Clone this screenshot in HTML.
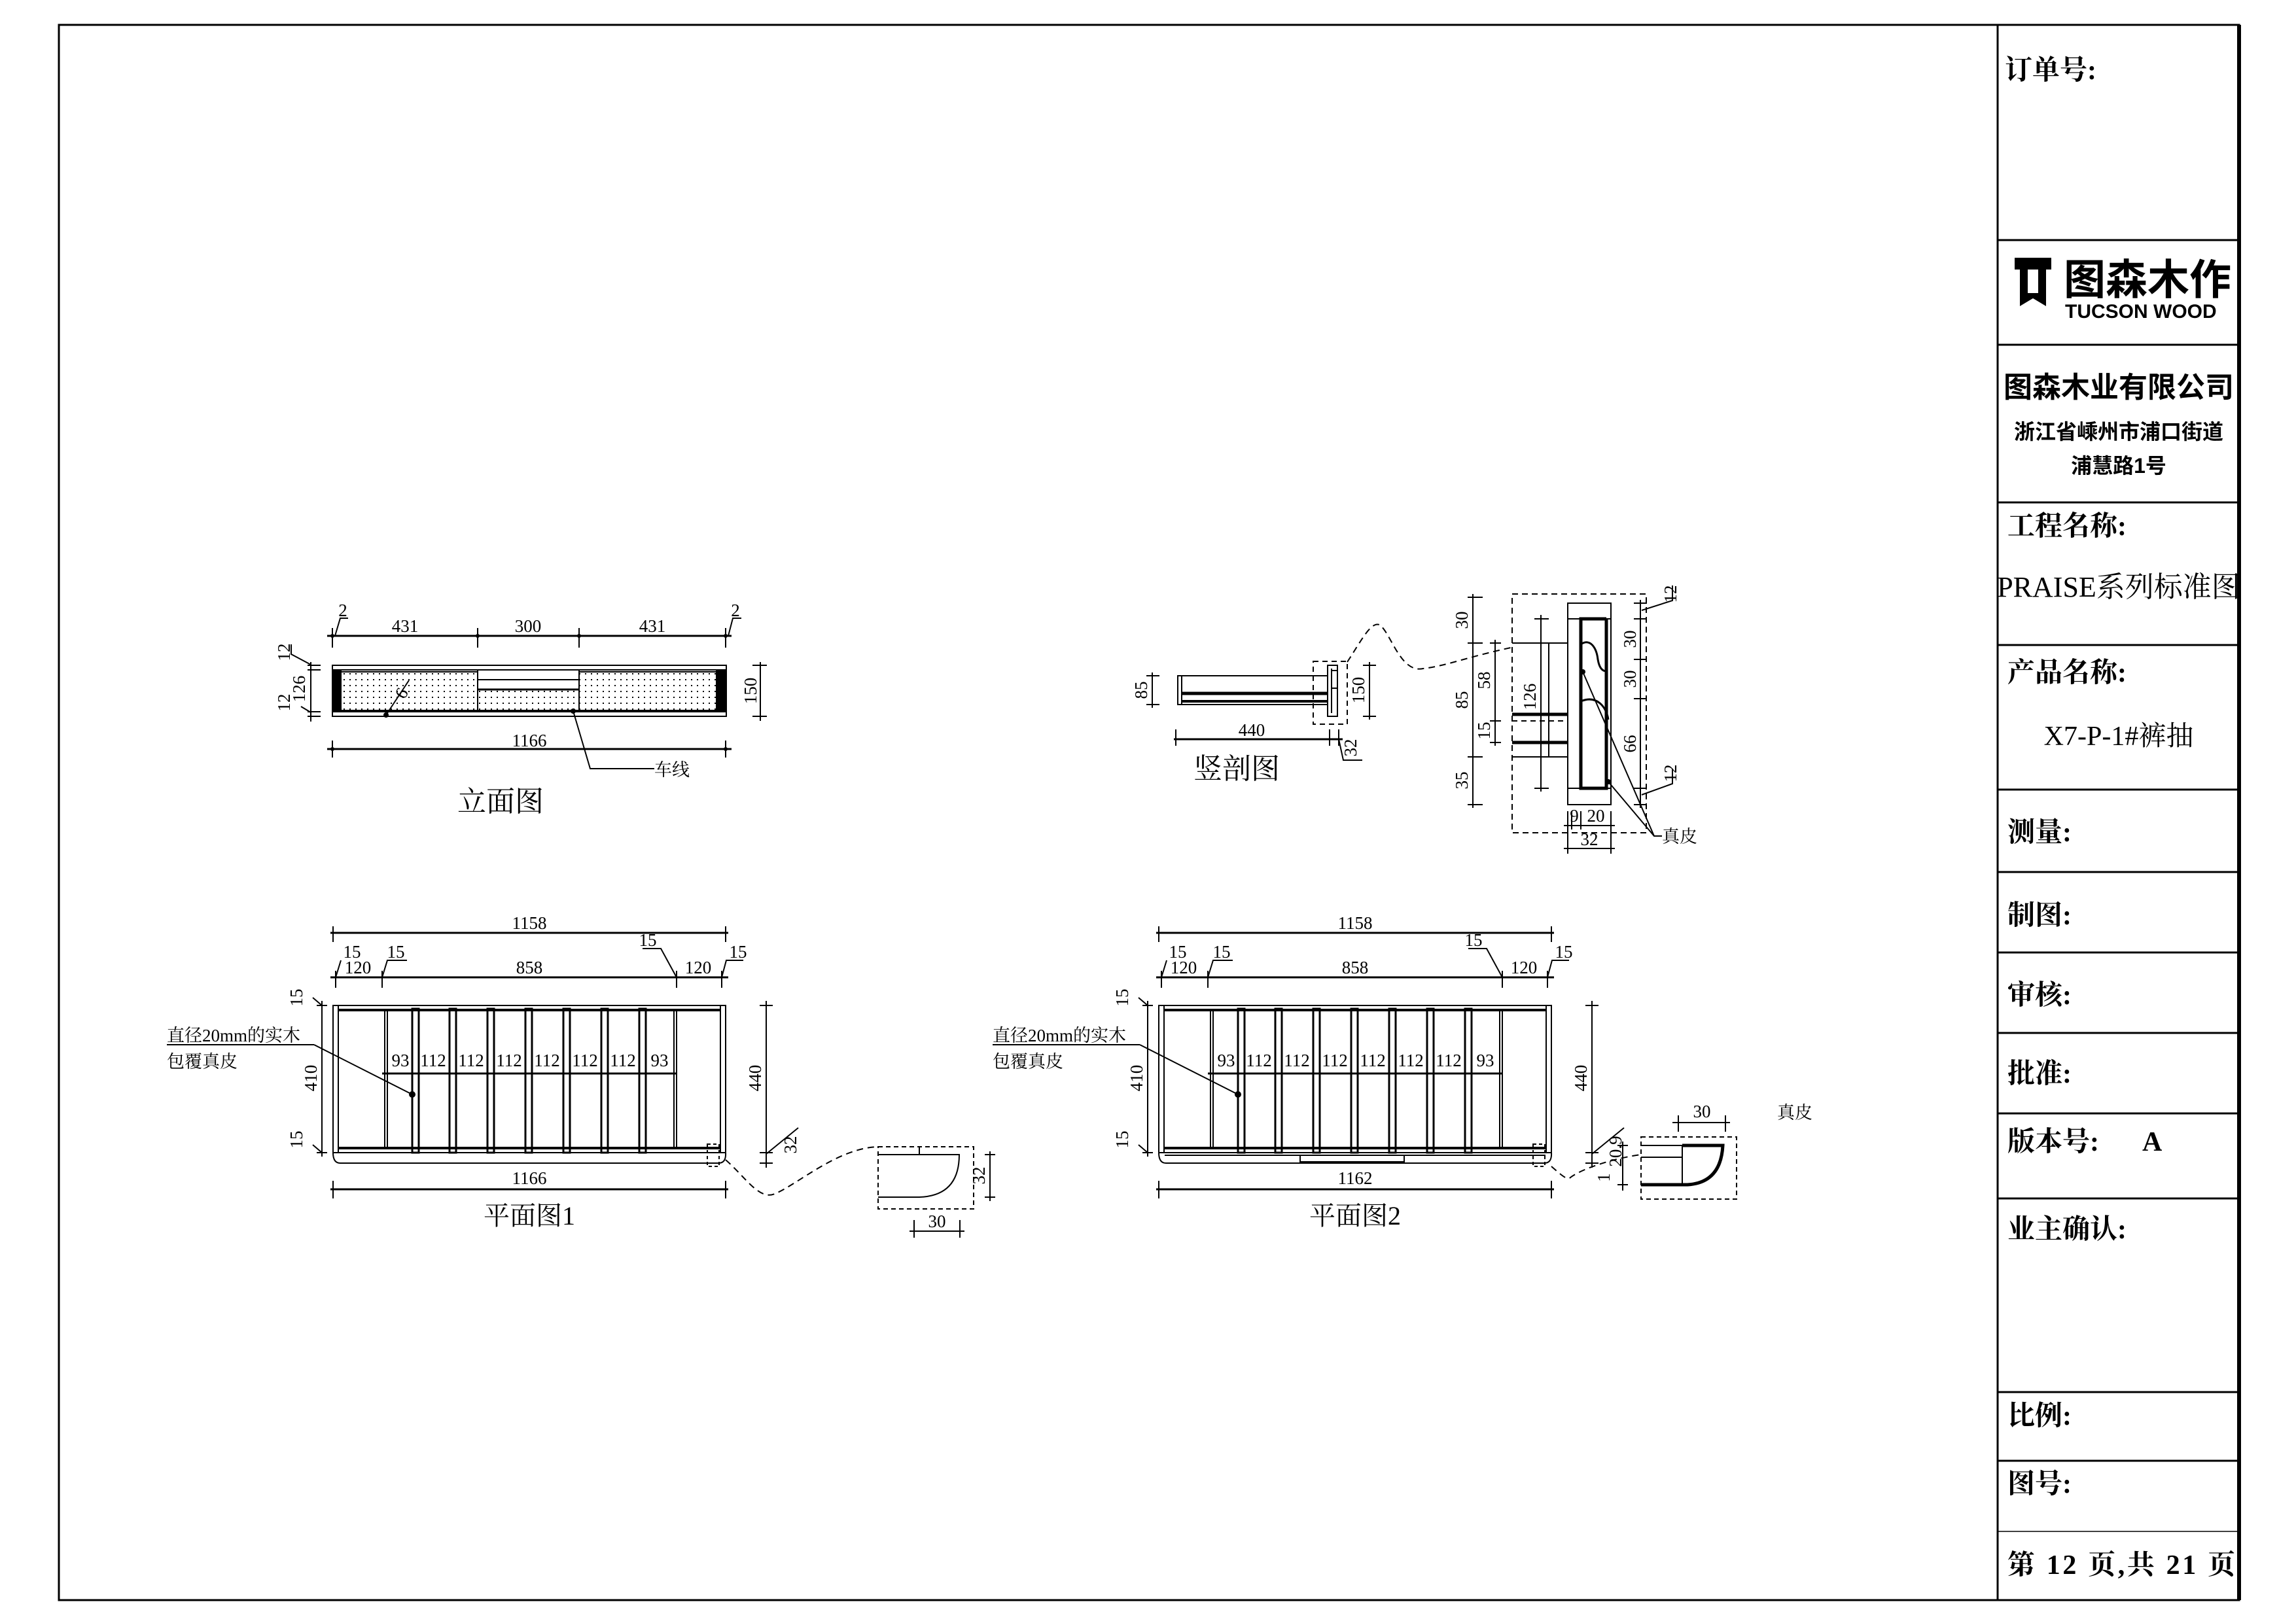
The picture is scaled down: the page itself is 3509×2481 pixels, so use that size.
<!DOCTYPE html>
<html><head><meta charset="utf-8"><style>
html,body{margin:0;padding:0;background:#fff}
svg{display:block}
.d{font-family:"Liberation Serif","Noto Serif CJK SC",serif;font-size:27px;fill:#000}
.c{font-family:"Liberation Serif","Noto Serif CJK SC",serif;fill:#000}
.t{font-family:"Liberation Serif","Noto Serif CJK SC",serif;font-weight:bold;font-size:42px;fill:#000}
.s{font-family:"Liberation Sans","Noto Sans CJK SC",sans-serif;font-weight:bold;fill:#000}
</style></head><body>
<svg width="3509" height="2481" viewBox="0 0 3509 2481" xmlns="http://www.w3.org/2000/svg">
<defs>
<pattern id="dots" width="9" height="9" patternUnits="userSpaceOnUse"><rect x="3" y="3" width="2" height="2" fill="#000"/></pattern>
</defs>
<g fill="none" stroke="#000">
<rect x="90" y="38" width="3332" height="2408" stroke-width="3"/>
<line x1="3053" y1="38" x2="3053" y2="2446" stroke-width="3"/>
<line x1="3422" y1="38" x2="3422" y2="2446" stroke-width="6"/>
<g stroke-width="3">
<line x1="3053" y1="367" x2="3422" y2="367"/><line x1="3053" y1="527" x2="3422" y2="527"/>
<line x1="3053" y1="768" x2="3422" y2="768"/><line x1="3053" y1="986" x2="3422" y2="986"/>
<line x1="3053" y1="1207" x2="3422" y2="1207"/><line x1="3053" y1="1333" x2="3422" y2="1333"/>
<line x1="3053" y1="1456" x2="3422" y2="1456"/><line x1="3053" y1="1579" x2="3422" y2="1579"/>
<line x1="3053" y1="1702" x2="3422" y2="1702"/><line x1="3053" y1="1832" x2="3422" y2="1832"/>
<line x1="3053" y1="2128" x2="3422" y2="2128"/><line x1="3053" y1="2233" x2="3422" y2="2233"/>
</g>
<line x1="3053" y1="2341" x2="3422" y2="2341" stroke-width="1.5"/>
</g>
<path d="M3079 394 H3135 V412 H3127 V468 L3107 456 L3087 468 V412 H3079Z M3099 412 V448 H3115 V412Z" fill="#000"/>
<text x="3154" y="450" class="s" font-size="64">图森木作</text>
<text x="3156" y="486" font-family="Liberation Sans,sans-serif" font-size="30" font-weight="bold">TUCSON WOOD</text>
<text x="3064" y="121" class="t">订单号:</text>
<text x="3238" y="607" class="s" font-size="44" text-anchor="middle">图森木业有限公司</text>
<text x="3238" y="671" class="s" font-size="32" text-anchor="middle">浙江省嵊州市浦口街道</text>
<text x="3238" y="723" class="s" font-size="32" text-anchor="middle">浦慧路1号</text>
<text x="3068" y="818" class="t">工程名称:</text>
<text x="3238" y="912" class="c" font-size="44" text-anchor="middle">PRAISE系列标准图</text>
<text x="3068" y="1042" class="t">产品名称:</text>
<text x="3238" y="1139" class="c" font-size="42" text-anchor="middle">X7-P-1#裤抽</text>
<text x="3068" y="1286" class="t">测量:</text>
<text x="3068" y="1413" class="t">制图:</text>
<text x="3068" y="1535" class="t">审核:</text>
<text x="3068" y="1655" class="t">批准:</text>
<text x="3068" y="1759" class="t">版本号:</text>
<text x="3274" y="1759" class="t">A</text>
<text x="3068" y="1893" class="t">业主确认:</text>
<text x="3068" y="2178" class="t">比例:</text>
<text x="3068" y="2282" class="t">图号:</text>
<text x="3068" y="2406" class="t" textLength="348">第 12 页,共 21 页</text>

<!-- ===== 立面图 ===== -->
<g stroke="#000" fill="none" stroke-width="2">
<rect x="508" y="1017" width="602" height="78"/>
<line x1="508" y1="1024" x2="1110" y2="1024"/><line x1="508" y1="1088" x2="1110" y2="1088"/>
<rect x="508" y="1024" width="13" height="64" fill="#000"/><rect x="1095" y="1024" width="15" height="64" fill="#000"/>
<rect x="521" y="1027" width="209" height="59" fill="url(#dots)"/>
<rect x="885" y="1027" width="210" height="59" fill="url(#dots)"/>
<rect x="730" y="1054" width="155" height="32" fill="url(#dots)"/>
<line x1="730" y1="1024" x2="730" y2="1088"/><line x1="885" y1="1024" x2="885" y2="1088"/>
<line x1="730" y1="1039" x2="885" y2="1039"/><line x1="730" y1="1054" x2="885" y2="1054" stroke-width="3"/>
<line x1="500" y1="972" x2="1118" y2="972" stroke-width="3"/>
<line x1="508" y1="960" x2="508" y2="990"/><line x1="730" y1="960" x2="730" y2="990"/><line x1="885" y1="960" x2="885" y2="990"/><line x1="1109" y1="960" x2="1109" y2="990"/>
<path d="M512 972 L520 945 H532 M1113 972 L1120 945 H1133"/>
<line x1="500" y1="1145" x2="1118" y2="1145" stroke-width="3"/>
<line x1="508" y1="1132" x2="508" y2="1158"/><line x1="1109" y1="1132" x2="1109" y2="1158"/>
<line x1="1162" y1="1012" x2="1162" y2="1102"/><line x1="1150" y1="1017" x2="1172" y2="1017"/><line x1="1150" y1="1095" x2="1172" y2="1095"/>
<line x1="475" y1="1012" x2="475" y2="1103"/><line x1="470" y1="1017" x2="490" y2="1017"/><line x1="470" y1="1024" x2="490" y2="1024"/><line x1="470" y1="1088" x2="490" y2="1088"/><line x1="470" y1="1095" x2="490" y2="1095"/>
<path d="M475 1016 L445 1000 V985 M475 1089 L460 1080"/>
<path d="M625 1040 L590 1093"/>
<path d="M876 1087 L902 1175 H1000"/>
</g>
<g fill="#000"><circle cx="590" cy="1093" r="4"/><circle cx="876" cy="1087" r="4"/>
<circle cx="508" cy="972" r="3"/><circle cx="730" cy="972" r="3"/><circle cx="885" cy="972" r="3"/><circle cx="1109" cy="972" r="3"/><circle cx="508" cy="1145" r="3"/><circle cx="1109" cy="1145" r="3"/></g>
<g class="d">
<text x="619" y="966" text-anchor="middle">431</text><text x="807" y="966" text-anchor="middle">300</text><text x="997" y="966" text-anchor="middle">431</text>
<text x="524" y="942" text-anchor="middle">2</text><text x="1124" y="942" text-anchor="middle">2</text>
<text x="809" y="1141" text-anchor="middle">1166</text>
<text transform="translate(1156,1056) rotate(-90)" text-anchor="middle">150</text>
<text transform="translate(443,997) rotate(-90)" text-anchor="middle">12</text>
<text transform="translate(466,1053) rotate(-90)" text-anchor="middle">126</text>
<text transform="translate(443,1074) rotate(-90)" text-anchor="middle">12</text>
<text transform="translate(618,1070) rotate(-60)">6</text>
<text x="1000" y="1186">车线</text>
</g>
<text x="765" y="1240" class="c" font-size="44" text-anchor="middle">立面图</text>

<!-- ===== 竖剖图 ===== -->
<g stroke="#000" fill="none" stroke-width="2">
<rect x="1800" y="1033" width="229" height="44"/>
<line x1="1806" y1="1060" x2="2029" y2="1060" stroke-width="5"/><line x1="1806" y1="1072" x2="2029" y2="1072" stroke-width="4"/>
<line x1="1806" y1="1033" x2="1806" y2="1077"/>
<rect x="2029" y="1017" width="15" height="78"/>
<path d="M2035 1022 V1090 M2035 1025 h8 M2035 1052 h8"/>
<rect x="2007" y="1011" width="52" height="96" stroke-dasharray="8 6"/>
<line x1="1761" y1="1028" x2="1761" y2="1082"/><line x1="1752" y1="1033" x2="1772" y2="1033"/><line x1="1752" y1="1077" x2="1772" y2="1077"/>
<line x1="2093" y1="1012" x2="2093" y2="1100"/><line x1="2083" y1="1017" x2="2103" y2="1017"/><line x1="2083" y1="1095" x2="2103" y2="1095"/>
<line x1="1794" y1="1130" x2="2052" y2="1130" stroke-width="3"/>
<line x1="1797" y1="1115" x2="1797" y2="1140"/><line x1="2032" y1="1115" x2="2032" y2="1140"/><line x1="2046" y1="1115" x2="2046" y2="1140"/>
<path d="M2046 1130 L2053 1162 H2082"/>
<path d="M2059 1012 C2080 980 2095 950 2108 955 C2125 965 2140 1030 2175 1022 C2210 1018 2240 1005 2309 990" stroke-dasharray="10 7"/>
<rect x="2311" y="908" width="205" height="365" stroke-dasharray="9 6"/>
<rect x="2396" y="922" width="66" height="308"/>
<line x1="2396" y1="946" x2="2462" y2="946"/><line x1="2396" y1="1205" x2="2462" y2="1205"/>
<path d="M2455 946 H2416 V1205 H2455 V946" stroke-width="5"/>
<path d="M2416 985 C2430 975 2440 990 2442 1008 C2444 1020 2448 1026 2455 1026" stroke-width="3"/>
<path d="M2416 1072 C2440 1062 2455 1080 2458 1100" stroke-width="3"/>
<line x1="2311" y1="983" x2="2396" y2="983"/><line x1="2311" y1="1157" x2="2396" y2="1157"/>
<line x1="2367" y1="983" x2="2367" y2="1157"/>
<line x1="2311" y1="1092" x2="2396" y2="1092" stroke-width="5"/><line x1="2311" y1="1135" x2="2396" y2="1135" stroke-width="5"/>
<line x1="2311" y1="1102" x2="2396" y2="1102" stroke-dasharray="8 6"/>
<line x1="2355" y1="940" x2="2355" y2="1210"/><line x1="2345" y1="946" x2="2367" y2="946"/><line x1="2345" y1="1205" x2="2367" y2="1205"/>
<line x1="2251" y1="908" x2="2251" y2="1235"/>
<line x1="2243" y1="913" x2="2266" y2="913"/><line x1="2243" y1="983" x2="2266" y2="983"/><line x1="2243" y1="1157" x2="2266" y2="1157"/><line x1="2243" y1="1230" x2="2266" y2="1230"/>
<line x1="2285" y1="978" x2="2285" y2="1140"/>
<line x1="2277" y1="983" x2="2294" y2="983"/><line x1="2277" y1="1102" x2="2294" y2="1102"/><line x1="2277" y1="1135" x2="2294" y2="1135"/>
<line x1="2507" y1="917" x2="2507" y2="1235"/>
<line x1="2497" y1="922" x2="2517" y2="922"/><line x1="2497" y1="946" x2="2517" y2="946"/><line x1="2497" y1="1008" x2="2517" y2="1008"/><line x1="2497" y1="1068" x2="2517" y2="1068"/><line x1="2497" y1="1205" x2="2517" y2="1205"/><line x1="2497" y1="1230" x2="2517" y2="1230"/>
<path d="M2509 933 L2556 918 V895 M2509 1215 L2556 1198 V1175"/>
<line x1="2390" y1="1262" x2="2468" y2="1262"/><line x1="2396" y1="1240" x2="2396" y2="1305"/><line x1="2402" y1="1240" x2="2402" y2="1268"/><line x1="2416" y1="1240" x2="2416" y2="1268"/><line x1="2462" y1="1240" x2="2462" y2="1305"/>
<line x1="2390" y1="1297" x2="2468" y2="1297"/>
<path d="M2419 1027 L2528 1278 H2540 M2458 1195 L2528 1278"/>
</g>
<g fill="#000"><circle cx="2419" cy="1027" r="4"/><circle cx="2458" cy="1195" r="4"/></g>
<g class="d">
<text transform="translate(1753,1055) rotate(-90)" text-anchor="middle">85</text>
<text transform="translate(2085,1055) rotate(-90)" text-anchor="middle">150</text>
<text x="1913" y="1125" text-anchor="middle">440</text>
<text transform="translate(2073,1143) rotate(-90)" text-anchor="middle">32</text>
<text transform="translate(2243,948) rotate(-90)" text-anchor="middle">30</text>
<text transform="translate(2243,1070) rotate(-90)" text-anchor="middle">85</text>
<text transform="translate(2243,1193) rotate(-90)" text-anchor="middle">35</text>
<text transform="translate(2277,1040) rotate(-90)" text-anchor="middle">58</text>
<text transform="translate(2277,1117) rotate(-90)" text-anchor="middle">15</text>
<text transform="translate(2347,1065) rotate(-90)" text-anchor="middle">126</text>
<text transform="translate(2500,977) rotate(-90)" text-anchor="middle">30</text>
<text transform="translate(2500,1038) rotate(-90)" text-anchor="middle">30</text>
<text transform="translate(2500,1137) rotate(-90)" text-anchor="middle">66</text>
<text transform="translate(2562,908) rotate(-90)" text-anchor="middle">12</text>
<text transform="translate(2562,1182) rotate(-90)" text-anchor="middle">12</text>
<text x="2406" y="1256" text-anchor="middle">9</text><text x="2439" y="1256" text-anchor="middle">20</text>
<text x="2429" y="1292" text-anchor="middle">32</text>
<text x="2540" y="1288">真皮</text>
</g>
<text x="1890" y="1190" class="c" font-size="44" text-anchor="middle">竖剖图</text>

<!-- ===== 平面图 ===== -->
<g id="plan">
<g stroke="#000" fill="none" stroke-width="2">
<rect x="509" y="1537" width="600" height="225"/>
<line x1="517" y1="1537" x2="517" y2="1762"/><line x1="1101" y1="1537" x2="1101" y2="1762"/>
<line x1="588" y1="1544" x2="588" y2="1755"/><line x1="592" y1="1544" x2="592" y2="1755"/>
<line x1="1030" y1="1544" x2="1030" y2="1755"/><line x1="1034" y1="1544" x2="1034" y2="1755"/>
<line x1="517" y1="1544" x2="1101" y2="1544" stroke-width="4"/><line x1="517" y1="1755" x2="1101" y2="1755" stroke-width="4"/>
<g stroke-width="3">
<rect x="630" y="1542" width="10" height="220"/><rect x="687" y="1542" width="10" height="220"/><rect x="745" y="1542" width="10" height="220"/>
<rect x="803" y="1542" width="10" height="220"/><rect x="861" y="1542" width="10" height="220"/><rect x="919" y="1542" width="10" height="220"/><rect x="977" y="1542" width="10" height="220"/>
</g>
<path d="M509 1762 H1109 Q1110 1778 1098 1778 H520 Q509 1778 509 1762"/>
<line x1="505" y1="1426" x2="1113" y2="1426" stroke-width="3"/><line x1="509" y1="1416" x2="509" y2="1440"/><line x1="1109" y1="1416" x2="1109" y2="1440"/>
<line x1="505" y1="1494" x2="1113" y2="1494" stroke-width="3"/>
<line x1="513" y1="1484" x2="513" y2="1510"/><line x1="584" y1="1484" x2="584" y2="1510"/><line x1="1034" y1="1484" x2="1034" y2="1510"/><line x1="1103" y1="1484" x2="1103" y2="1510"/>
<path d="M513 1494 L521 1468 M584 1494 L592 1468 H622 M1034 1494 L1010 1450 H982 M1103 1494 L1110 1468 H1136"/>
<line x1="492" y1="1530" x2="492" y2="1768"/><line x1="484" y1="1537" x2="500" y2="1537"/><line x1="484" y1="1762" x2="500" y2="1762"/>
<path d="M492 1537 L478 1525 M492 1762 L478 1750"/>
<line x1="1171" y1="1530" x2="1171" y2="1785"/><line x1="1161" y1="1537" x2="1181" y2="1537"/><line x1="1161" y1="1762" x2="1181" y2="1762"/><line x1="1161" y1="1778" x2="1181" y2="1778"/>
<path d="M1171 1764 L1220 1724"/>
<line x1="584" y1="1641" x2="1034" y2="1641" stroke-width="3"/>
<line x1="505" y1="1818" x2="1113" y2="1818" stroke-width="3"/><line x1="509" y1="1805" x2="509" y2="1832"/><line x1="1109" y1="1805" x2="1109" y2="1832"/>
<line x1="255" y1="1597" x2="480" y2="1597"/><path d="M480 1597 L630 1673"/>
<rect x="1081" y="1749" width="18" height="34" stroke-dasharray="5 4"/>
</g>
<circle cx="630" cy="1673" r="5" fill="#000"/>
<g class="d">
<text x="809" y="1420" text-anchor="middle">1158</text>
<text x="547" y="1488" text-anchor="middle">120</text><text x="809" y="1488" text-anchor="middle">858</text><text x="1067" y="1488" text-anchor="middle">120</text>
<text x="538" y="1464" text-anchor="middle">15</text><text x="605" y="1464" text-anchor="middle">15</text><text x="990" y="1446" text-anchor="middle">15</text><text x="1128" y="1464" text-anchor="middle">15</text>
<text transform="translate(484,1648) rotate(-90)" text-anchor="middle">410</text>
<text transform="translate(1163,1648) rotate(-90)" text-anchor="middle">440</text>
<text transform="translate(462,1525) rotate(-90)" text-anchor="middle">15</text>
<text transform="translate(462,1742) rotate(-90)" text-anchor="middle">15</text>
<text x="612" y="1630" text-anchor="middle">93</text><text x="662" y="1630" text-anchor="middle">112</text><text x="720" y="1630" text-anchor="middle">112</text><text x="778" y="1630" text-anchor="middle">112</text>
<text x="836" y="1630" text-anchor="middle">112</text><text x="894" y="1630" text-anchor="middle">112</text><text x="952" y="1630" text-anchor="middle">112</text><text x="1008" y="1630" text-anchor="middle">93</text>
<text x="255" y="1592">直径20mm的实木</text>
<text x="255" y="1632">包覆真皮</text>
</g>
</g>
<g class="d"><text transform="translate(1217,1750) rotate(-90)" text-anchor="middle">32</text>
<text x="809" y="1810" text-anchor="middle">1166</text></g>
<text x="809" y="1872" class="c" font-size="40" text-anchor="middle">平面图1</text>
<g stroke="#000" fill="none" stroke-width="2">
<path d="M1109 1773 C1140 1800 1160 1835 1184 1825 C1220 1810 1280 1755 1342 1753" stroke-dasharray="10 7"/>
<rect x="1342" y="1753" width="146" height="95" stroke-dasharray="7 5"/>
<path d="M1342 1765 H1466 Q1466 1828 1405 1830 H1342 M1405 1753 V1765"/>
<line x1="1513" y1="1760" x2="1513" y2="1836"/><line x1="1505" y1="1765" x2="1521" y2="1765"/><line x1="1505" y1="1830" x2="1521" y2="1830"/>
<line x1="1390" y1="1882" x2="1474" y2="1882"/><line x1="1397" y1="1865" x2="1397" y2="1892"/><line x1="1467" y1="1865" x2="1467" y2="1892"/>
</g>
<g class="d"><text transform="translate(1505,1797) rotate(-90)" text-anchor="middle">32</text><text x="1432" y="1876" text-anchor="middle">30</text></g>

<!-- plan 2 -->
<use href="#plan" transform="translate(1262,0)"/>
<g stroke="#000" fill="none" stroke-width="2">
<line x1="1780" y1="1766" x2="2362" y2="1766"/>
<rect x="1987" y="1766" width="159" height="10"/>
<path d="M2371 1783 C2385 1795 2395 1805 2400 1800 C2420 1785 2470 1770 2508 1765" stroke-dasharray="10 7"/>
<rect x="2508" y="1738" width="146" height="95" stroke-dasharray="7 5"/>
<path d="M2508 1751 H2571 V1811 M2508 1769 H2571" />
<path d="M2571 1751 H2633 Q2630 1808 2579 1811 H2508" stroke-width="5"/>
<line x1="2556" y1="1716" x2="2644" y2="1716"/><line x1="2565" y1="1705" x2="2565" y2="1730"/><line x1="2637" y1="1705" x2="2637" y2="1730"/>
<line x1="2480" y1="1745" x2="2480" y2="1820"/><line x1="2472" y1="1751" x2="2488" y2="1751"/><line x1="2472" y1="1811" x2="2488" y2="1811"/>
</g>
<g class="d"><text x="2071" y="1810" text-anchor="middle">1162</text>
<text transform="translate(2478,1760) rotate(-90)" text-anchor="middle">20.9</text>
<text transform="translate(2460,1800) rotate(-90)" text-anchor="middle">1</text>
<text x="2601" y="1708" text-anchor="middle">30</text>
<text x="2716" y="1710">真皮</text></g>
<text x="2071" y="1872" class="c" font-size="40" text-anchor="middle">平面图2</text>
</svg>
</body></html>
